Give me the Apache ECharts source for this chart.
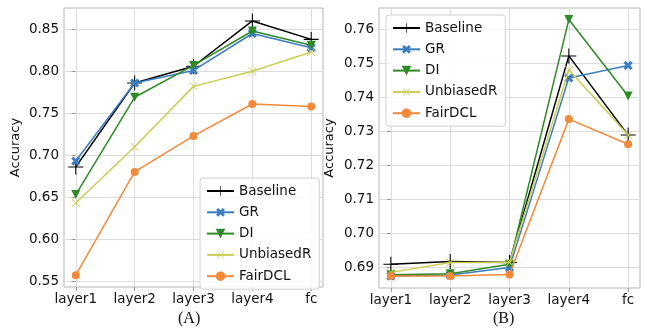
<!DOCTYPE html>
<html>
<head>
<meta charset="utf-8">
<script src="https://cdn.jsdelivr.net/npm/echarts@6/dist/echarts.min.js"></script>
<style>
html,body{margin:0;padding:0;background:#fff;}
#c{width:645px;height:330px;}
</style>
</head>
<body>
<div id="c"></div>
<script>
const categories = ['layer1', 'layer2', 'layer3', 'layer4', 'fc'];
const seriesNames = ['Baseline', 'GR', 'DI', 'UnbiasedR', 'FairDCL'];

// Panel (A)
const A_baseline = [0.686, 0.786, 0.806, 0.860, 0.838];
const A_gr       = [0.693, 0.786, 0.801, 0.845, 0.828];
const A_di       = [0.653, 0.769, 0.807, 0.848, 0.831];
const A_unbiased = [0.643, 0.710, 0.782, 0.800, 0.823];
const A_fairdcl  = [0.557, 0.680, 0.723, 0.761, 0.758];
const A_yTicks = [0.55, 0.60, 0.65, 0.70, 0.75, 0.80, 0.85];

// Panel (B)
const B_baseline = [0.6910, 0.6918, 0.6915, 0.7523, 0.7290];
const B_gr       = [0.6875, 0.6878, 0.6900, 0.7458, 0.7495];
const B_di       = [0.6879, 0.6882, 0.6910, 0.7630, 0.7405];
const B_unbiased = [0.6886, 0.6915, 0.6915, 0.7482, 0.7290];
const B_fairdcl  = [0.6875, 0.6875, 0.6880, 0.7337, 0.7263];
const B_yTicks = [0.69, 0.70, 0.71, 0.72, 0.73, 0.74, 0.75, 0.76];

const FONT = 'DejaVu Sans';
const colors = ['#000000', '#3b7dbf', '#2f8a26', '#cccc55', '#f5893a'];
const plusPath = 'path://M-1,-0.07L-0.07,-0.07L-0.07,-1L0.07,-1L0.07,-0.07L1,-0.07L1,0.07L0.07,0.07L0.07,1L-0.07,1L-0.07,0.07L-1,0.07Z';
const fatPlusPath = 'path://M-1,-0.3L-0.3,-0.3L-0.3,-1L0.3,-1L0.3,-0.3L1,-0.3L1,0.3L0.3,0.3L0.3,1L-0.3,1L-0.3,0.3L-1,0.3Z';
const symbols = [
  {symbol: plusPath, symbolSize: 15, symbolRotate: 0},
  {symbol: fatPlusPath, symbolSize: 10, symbolRotate: 45},
  {symbol: 'triangle', symbolSize: 9, symbolRotate: 180},
  {symbol: plusPath, symbolSize: 11, symbolRotate: 45},
  {symbol: 'circle', symbolSize: 8, symbolRotate: 0}
];

function pts(arr) { return arr.map((v, i) => [i, v]); }

function makeSeries(dataArrs, idx) {
  return dataArrs.map((arr, k) => ({
    name: seriesNames[k],
    type: 'line',
    xAxisIndex: idx,
    yAxisIndex: idx,
    data: pts(arr),
    symbol: symbols[k].symbol,
    symbolSize: symbols[k].symbolSize,
    symbolRotate: symbols[k].symbolRotate,
    showAllSymbol: true,
    lineStyle: {color: colors[k], width: 1.5},
    itemStyle: {color: colors[k]},
    z: 2 + k,
    animation: false
  }));
}

function xAxis(idx) {
  return {
    type: 'value', gridIndex: idx, min: -0.2, max: 4.2,
    axisLine: {show: false},
    axisTick: {show: true, length: 4, lineStyle: {color: '#999'}, customValues: [0, 1, 2, 3, 4]},
    axisLabel: {customValues: [0, 1, 2, 3, 4], formatter: v => categories[Math.round(v)], color: '#111', fontFamily: FONT, fontSize: 13.5, margin: 5},
    splitLine: {show: true, lineStyle: {color: '#dcdcdc', width: 1}}
  };
}
function yAxis(idx, min, max, ticks, gap) {
  return {
    type: 'value', gridIndex: idx, min: min, max: max,
    name: 'Accuracy', nameLocation: 'middle', nameGap: gap, nameRotate: 90,
    nameTextStyle: {fontFamily: FONT, fontSize: 13, color: '#111'},
    axisLine: {show: false},
    axisTick: {show: true, length: 4, lineStyle: {color: '#999'}, customValues: ticks},
    axisLabel: {customValues: ticks, formatter: v => v.toFixed(2), color: '#111', fontFamily: FONT, fontSize: 13.5, margin: 5},
    splitLine: {show: true, lineStyle: {color: '#dcdcdc', width: 1}}
  };
}

function legend(left, top) {
  return {
    data: seriesNames, orient: 'vertical', left: left, top: top,
    itemWidth: 27, itemHeight: 12, itemGap: 7.3,
    padding: [6, 8, 6, 6],
    backgroundColor: 'rgba(255,255,255,0.85)', borderColor: '#d0d0d0', borderWidth: 1, borderRadius: 3,
    textStyle: {fontFamily: FONT, fontSize: 13.5, color: '#111'},
    selectedMode: false
  };
}

const chart = echarts.init(document.getElementById('c'), null, {renderer: 'canvas'});
chart.setOption({
  animation: false,
  backgroundColor: '#fff',
  grid: [
    {left: 64, top: 8, width: 259, height: 279, show: true, borderColor: '#b5b5b5', borderWidth: 1, backgroundColor: 'transparent', containLabel: false},
    {left: 379, top: 8, width: 261, height: 280, show: true, borderColor: '#b5b5b5', borderWidth: 1, backgroundColor: 'transparent', containLabel: false}
  ],
  xAxis: [xAxis(0), xAxis(1)],
  yAxis: [yAxis(0, 0.5429, 0.8754, A_yTicks, 42), yAxis(1, 0.6840, 0.7664, B_yTicks, 43)],
  legend: [legend(200, 178), legend(386, 15)],
  series: makeSeries([A_baseline, A_gr, A_di, A_unbiased, A_fairdcl], 0)
    .concat(makeSeries([B_baseline, B_gr, B_di, B_unbiased, B_fairdcl], 1)),
  graphic: [
    {type: 'text', left: 190 - 12, top: 311, style: {text: '(A)', font: '16px "Liberation Serif"', fill: '#111'}},
    {type: 'text', left: 505 - 12, top: 311, style: {text: '(B)', font: '16px "Liberation Serif"', fill: '#111'}}
  ]
});
</script>
</body>
</html>
